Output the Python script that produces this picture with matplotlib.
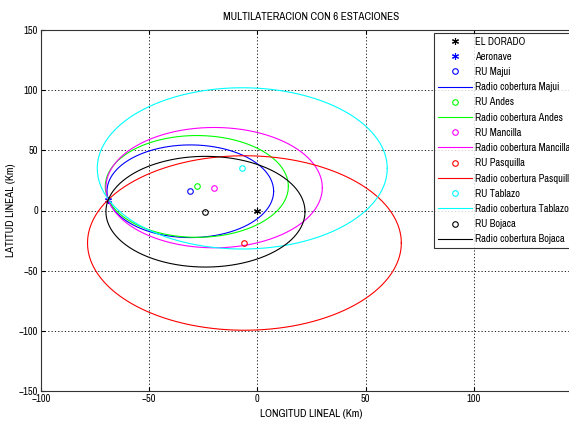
import numpy as np
import matplotlib
matplotlib.use("Agg")
import matplotlib.pyplot as plt

plt.rcParams["font.family"] = ["Archivo Narrow", "Liberation Sans", "DejaVu Sans"]

# station positions (Km)
dorado = (0, 0)
aeronave = (-69, 9)
names = ["Majui", "Andes", "Mancilla", "Pasquilla", "Tablazo", "Bojaca"]
ru_x = [-31, -28, -20, -6, -7, -24]
ru_y = [16, 20, 19, -27, 35, -1]
radios = [38.5, 42.3, 50, 72.5, 67, 46]
colors = ["#0000ff", "#00ff00", "#ff00ff", "#ff0000", "#00ffff", "#000000"]

fig = plt.figure(figsize=(5.69, 4.22), dpi=100)
ax = fig.add_axes([41 / 569, 1 - 391 / 422, 541 / 569, 361 / 422])

star = (6, 2, 0)
ax.plot(dorado[0], dorado[1], marker=star, linestyle="none", color="black",
        markersize=5, markeredgewidth=0.8, label="EL DORADO")
ax.plot(aeronave[0], aeronave[1], marker=star, linestyle="none", color="blue",
        markersize=5, markeredgewidth=0.8, label="Aeronave")

t = np.linspace(0, 2 * np.pi, 400)
for name, cx, cy, r, c in zip(names, ru_x, ru_y, radios, colors):
    ax.plot(cx, cy, "o", markerfacecolor="none", markeredgecolor=c,
            markersize=4, markeredgewidth=0.8, label=f"RU {name}")
    ax.plot(cx + r * np.cos(t), cy + r * np.sin(t), color=c, linewidth=0.8,
            label=f"Radio cobertura {name}")

ax.set_xlim(-100, 150)
ax.set_ylim(-150, 150)
ax.set_xticks([-100, -50, 0, 50, 100, 150])
ax.set_yticks([-150, -100, -50, 0, 50, 100, 150])
ax.grid(True, linestyle=(0, (1.5, 2.5)), color="black", linewidth=0.6)
ax.tick_params(direction="in", top=True, right=True, labelsize=7.5, length=3, pad=2)
for s in ax.spines.values():
    s.set_linewidth(0.8)
    s.set_color("#333333")

ax.set_title("MULTILATERACION CON 6 ESTACIONES", fontsize=8, pad=7)
ax.set_xlabel("LONGITUD LINEAL (Km)", fontsize=8, labelpad=4)
ax.set_ylabel("LATITUD LINEAL (Km)", fontsize=8, labelpad=2)

leg = ax.legend(loc="upper left", bbox_to_anchor=(393 / 541, 1 - 3 / 361), fontsize=7.5,
                frameon=True, fancybox=False, edgecolor="black", borderaxespad=0,
                handlelength=3.3, handletextpad=0.3, labelspacing=0.5,
                borderpad=0.35)
leg.get_frame().set_linewidth(0.8)

fig.savefig("out.png", dpi=100)
